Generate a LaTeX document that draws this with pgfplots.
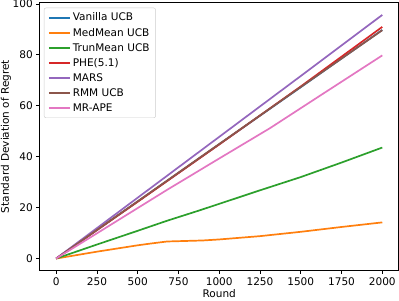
\documentclass[border=0pt]{standalone}
\usepackage{fontspec}
\setmainfont{DejaVu Sans}
\usepackage{pgfplots}
\pgfplotsset{compat=1.18}
\definecolor{c0}{HTML}{1F77B4}
\definecolor{c1}{HTML}{FF7F0E}
\definecolor{c2}{HTML}{2CA02C}
\definecolor{c3}{HTML}{D62728}
\definecolor{c4}{HTML}{9467BD}
\definecolor{c5}{HTML}{8C564B}
\definecolor{c6}{HTML}{E377C2}
\begin{document}
\begin{tikzpicture}
\begin{axis}[
  scale only axis,
  width=358pt, height=267pt,
  xmin=-100, xmax=2100, ymin=-4.6, ymax=100.5,
  xtick={0,250,500,750,1000,1250,1500,1750,2000},
  ytick={0,20,40,60,80,100},
  xtick pos=bottom, ytick pos=left,
  tick align=outside,
  major tick length=3.5pt,
  every tick/.style={black, line width=0.8pt},
  axis line style={black, line width=0.8pt},
  /pgf/number format/assume math mode=true,
  /pgf/number format/1000 sep={},
  tick label style={font=\fontsize{10.5}{12.6}\selectfont},
  yticklabel style={inner ysep=0pt},
  label style={font=\fontsize{10.5}{12.6}\selectfont},
  xlabel={Round}, ylabel={Standard Deviation of Regret},
  xlabel style={yshift=3pt},
  ylabel style={yshift=-3pt, inner ysep=1pt},
  legend style={at={(0,1)}, anchor=north west, xshift=4pt, yshift=-5pt,
    draw=black!20, rounded corners=2pt, font=\fontsize{10.5}{12.6}\selectfont,
    inner xsep=4pt, inner ysep=3pt, row sep=1.7pt},
  legend cell align=left,
  legend image code/.code={\draw[#1] (0pt,0pt) -- (21pt,0pt);},
]
\addplot[c0, line width=1.7pt] coordinates {(0,0) (500,22.4) (1000,44.9) (1500,67.3) (2000,89.8)};
\addlegendentry{Vanilla UCB}
\addplot[c1, line width=1.7pt] coordinates {(0,0) (250,2.7) (500,5.2) (580,5.9) (680,6.7) (900,7.1) (1000,7.5) (1250,8.8) (1500,10.5) (1750,12.4) (2000,14.2)};
\addlegendentry{MedMean UCB}
\addplot[c2, line width=1.7pt] coordinates {(0,0) (250,5.5) (500,10.9) (678,14.8) (883,19.0) (1250,26.8) (1500,32.0) (1750,37.7) (2000,43.6)};
\addlegendentry{TrunMean UCB}
\addplot[c3, line width=1.7pt] coordinates {(0,0) (500,22.3) (1000,44.8) (1500,67.6) (2000,91.0)};
\addlegendentry{PHE(5.1)}
\addplot[c4, line width=1.7pt] coordinates {(0,0) (500,23.9) (1000,47.8) (1500,71.7) (2000,95.7)};
\addlegendentry{MARS}
\addplot[c5, line width=1.7pt] coordinates {(0,0) (500,22.5) (1000,45.0) (1500,67.4) (2000,89.7)};
\addlegendentry{RMM UCB}
\addplot[c6, line width=1.7pt] coordinates {(0,0) (250,9.9) (678,26.9) (1000,39.3) (1311,51.2) (1650,65.3) (2000,79.8)};
\addlegendentry{MR-APE}
\end{axis}
\end{tikzpicture}
\end{document}
